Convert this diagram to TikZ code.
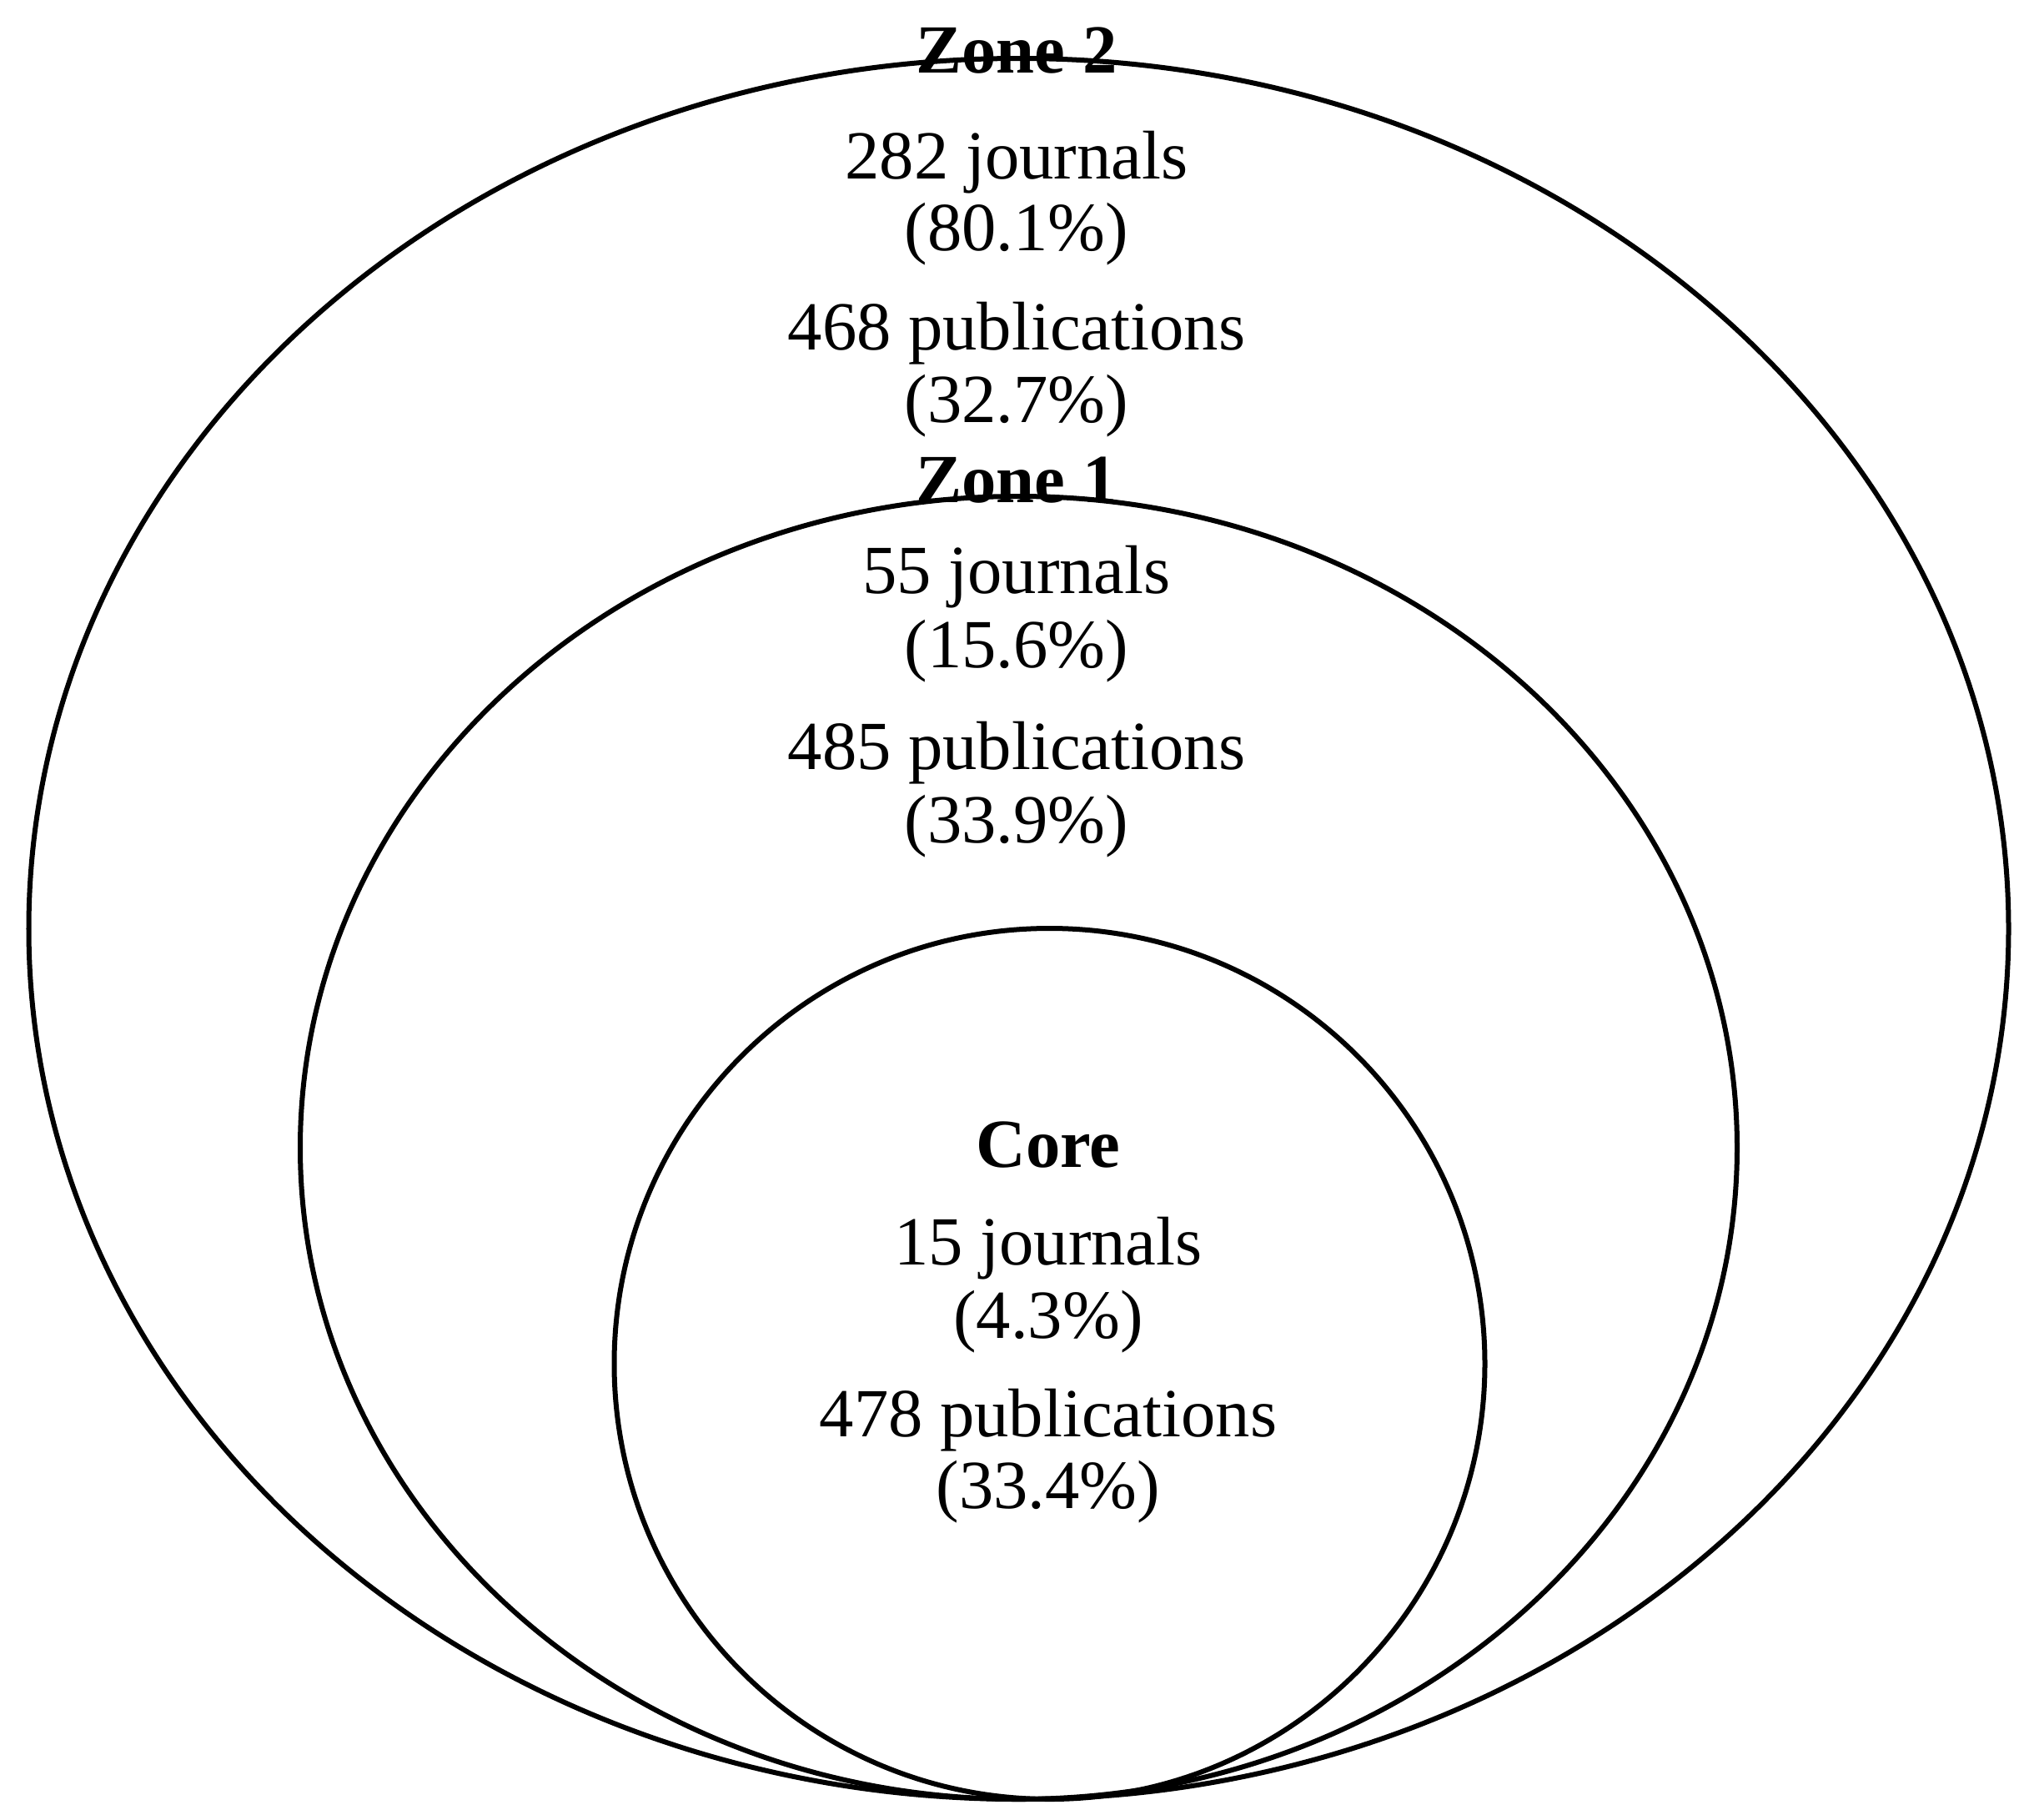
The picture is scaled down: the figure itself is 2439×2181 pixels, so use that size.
\documentclass[tikz,border=0pt]{standalone}
\usepackage{fontspec}
\setmainfont{Liberation Serif}
\begin{document}
\begin{tikzpicture}[x=0.01cm,y=-0.01cm,
  ring/.style={draw=black,line width=0.06cm},
  lbl/.style={anchor=base,inner sep=0pt,font=\fontsize{23.5}{24}\selectfont},
  ttl/.style={lbl,font=\fontsize{23.5}{24}\selectfont\bfseries}]
\useasboundingbox[fill=white] (0,0) rectangle (2439,2181);
% rings
\draw[ring] (1221.5,1113.5) ellipse [x radius=1187, y radius=1043.5];
\draw[ring] (1221.5,1376) ellipse [x radius=861.5, y radius=781];
\draw[ring] (1258.5,1635) circle [radius=522];
% Zone 2
\node[ttl] (z2) at (1219,87) {Zone 2};
\node[lbl] (z2j) at (1219,214) {282 journals};
\node[lbl] (z2jp) at (1219,300) {(80.1\%)};
\node[lbl] (z2p) at (1219,419) {468 publications};
\node[lbl] (z2pp) at (1219,506) {(32.7\%)};
% Zone 1
\node[ttl] (z1) at (1219,602) {Zone 1};
\node[lbl] (z1j) at (1219,711) {55 journals};
\node[lbl] (z1jp) at (1219,800) {(15.6\%)};
\node[lbl] (z1p) at (1219,922) {485 publications};
\node[lbl] (z1pp) at (1219,1010) {(33.9\%)};
% Core
\node[ttl] (c) at (1257,1399) {Core};
\node[lbl] (cj) at (1257,1516) {15 journals};
\node[lbl] (cjp) at (1257,1604) {(4.3\%)};
\node[lbl] (cp) at (1257,1722) {478 publications};
\node[lbl] (cpp) at (1257,1808) {(33.4\%)};
\end{tikzpicture}
\end{document}
